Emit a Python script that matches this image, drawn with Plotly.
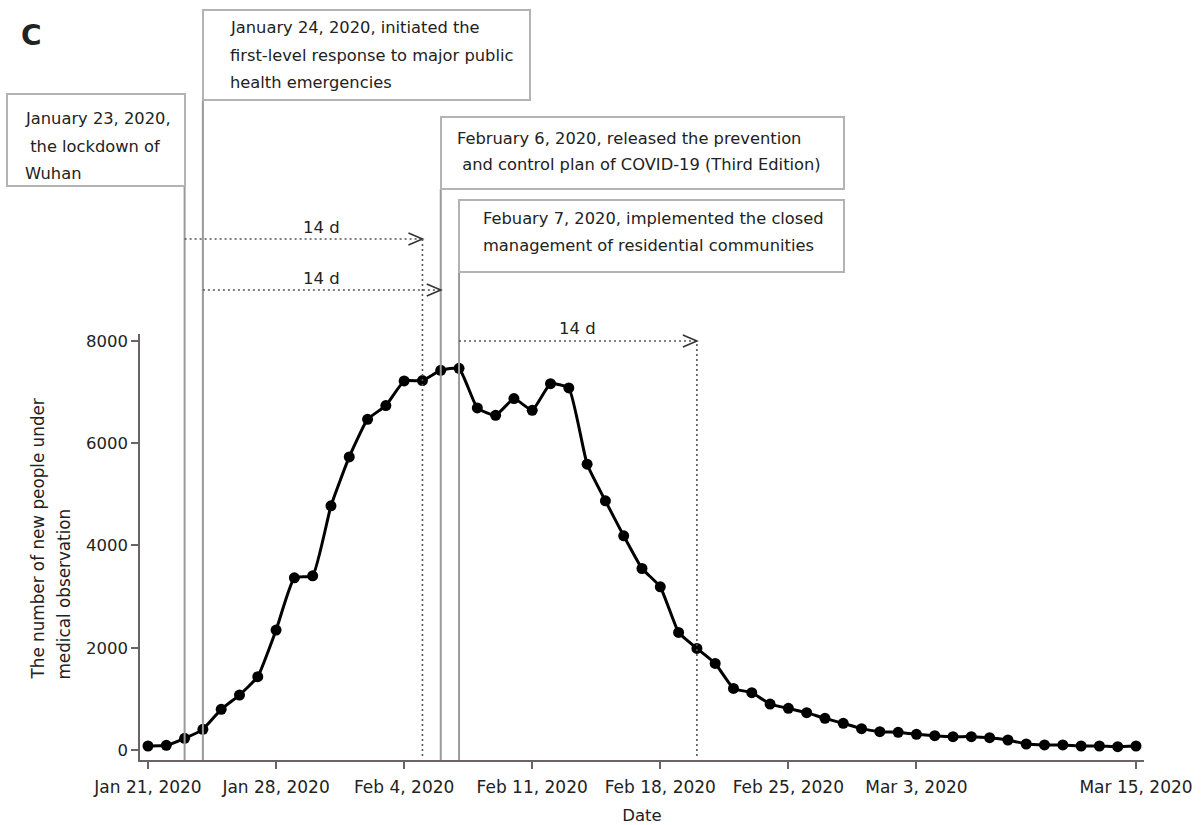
import pandas as pd
import plotly.graph_objects as go

# ---------------- data ----------------
dates = pd.date_range("2020-01-21", "2020-03-15", freq="D")
new_observed = [
    78, 91, 228, 404, 795, 1075, 1433, 2345, 3368, 3407, 4775,
    5733, 6469, 6736, 7218, 7225, 7427, 7465, 6690, 6547, 6873, 6645, 7166, 7081,
    5590, 4873, 4189, 3550, 3192, 2300, 1987, 1694, 1205, 1120, 899, 814, 730,
    619, 521, 417,
    358, 345, 306, 280, 261, 261, 241, 195, 117, 98, 98, 78, 78, 65, 78,
]
tick_dates = ["2020-01-21", "2020-01-28", "2020-02-04", "2020-02-11",
              "2020-02-18", "2020-02-25", "2020-03-03", "2020-03-15"]
tick_labels = ["Jan 21, 2020", "Jan 28, 2020", "Feb 4, 2020", "Feb 11, 2020",
               "Feb 18, 2020", "Feb 25, 2020", "Mar 3, 2020", "Mar 15, 2020"]
y_ticks = [0, 2000, 4000, 6000, 8000]

event_dates = ["2020-01-23", "2020-01-24", "2020-02-06", "2020-02-07"]
event_lines = [
    ["January 23, 2020,", "\u00a0the lockdown of", "Wuhan"],
    ["January 24, 2020, initiated the", "first-level response to major public",
     "health emergencies"],
    ["February 6, 2020, released the prevention",
     "\u00a0and control plan of COVID-19 (Third Edition)"],
    ["Febuary 7, 2020, implemented the closed",
     "management of residential communities"],
]
# 14-day arrows: start, end, label
arrow_start = ["2020-01-23", "2020-01-24", "2020-02-07"]
arrow_end = ["2020-02-05", "2020-02-06", "2020-02-20"]
arrow_label_x = ["2020-01-30 12:00", "2020-01-30 12:00", "2020-02-13 12:00"]
arrow_label = ["14 d", "14 d", "14 d"]

# ---------------- layout geometry (pixels) ----------------
W, H = 1201, 825
L, R, T, B = 140, 1144, 334, 760


def px_x(p):
    return (p - L) / (R - L)


def px_y(p):
    return (B - p) / (B - T)


box_px = [(7, 94, 185, 186), (203, 10, 530, 100), (441, 117, 844, 189), (459, 200, 844, 272)]
text_x_px = [23, 228, 455, 481]
text_y_px = [[119, 146, 174], [27.5, 55, 82.6], [138, 165], [218, 245]]
arrow_y_px = [239, 290, 341]
label_y_px = [227, 278, 328]

TXT = "#222222"
FONT = "DejaVu Sans"
AX = "#6b6464"

fig = go.Figure()
fig.add_trace(go.Scatter(
    x=dates, y=new_observed, mode="lines+markers",
    line=dict(color="black", width=3, shape="spline", smoothing=0.4),
    marker=dict(color="black", size=11),
    cliponaxis=False, showlegend=False,
))

shapes = []
annotations = []

# event vertical lines and boxes
for i, d in enumerate(event_dates):
    x0, y0, x1, y1 = box_px[i]
    shapes.append(dict(type="line", xref="x", yref="paper", x0=d, x1=d,
                       y0=0, y1=px_y(y1), line=dict(color="#9a9a9a", width=2)))
    shapes.append(dict(type="rect", xref="paper", yref="paper",
                       x0=px_x(x0), x1=px_x(x1), y0=px_y(y1), y1=px_y(y0),
                       line=dict(color="#b3b3b3", width=2), fillcolor="rgba(0,0,0,0)"))
    for j, line in enumerate(event_lines[i]):
        annotations.append(dict(text=line, xref="paper", yref="paper",
                                x=px_x(text_x_px[i]), y=px_y(text_y_px[i][j]),
                                xanchor="left", yanchor="middle", showarrow=False,
                                font=dict(family=FONT, size=16.3, color=TXT)))

# 14 d arrows
for i in range(3):
    ya = px_y(arrow_y_px[i])
    shapes.append(dict(type="line", xref="x", yref="paper",
                       x0=arrow_start[i], x1=arrow_end[i], y0=ya, y1=ya,
                       line=dict(color="#555555", width=1.6, dash="2px,3px")))
    shapes.append(dict(type="path", xref="x", yref="paper",
                       xsizemode="pixel", ysizemode="pixel",
                       xanchor=arrow_end[i], yanchor=ya,
                       path="M-14,6 L0,0 L-14,-6",
                       line=dict(color="#333333", width=1.6)))
    annotations.append(dict(text=arrow_label[i], xref="x", yref="paper",
                            x=arrow_label_x[i], y=px_y(label_y_px[i]),
                            xanchor="center", yanchor="middle", showarrow=False,
                            font=dict(family=FONT, size=16.5, color=TXT)))

# dotted verticals at arrow ends
for i in (0, 2):
    shapes.append(dict(type="line", xref="x", yref="paper",
                       x0=arrow_end[i], x1=arrow_end[i],
                       y0=px_y(756), y1=px_y(arrow_y_px[i]),
                       line=dict(color="#555555", width=1.6, dash="2px,3px")))

# panel letter
annotations.append(dict(text="<b>C</b>", xref="paper", yref="paper",
                        x=px_x(19), y=px_y(35), xanchor="left", yanchor="middle",
                        showarrow=False, font=dict(family=FONT, size=28, color=TXT)))

# y-axis title (two lines, left/bottom aligned)
for txt, xp in (("The number of new people under", 37), ("medical observation", 63)):
    annotations.append(dict(text=txt, xref="paper", yref="paper",
                            x=px_x(xp), y=px_y(682), xanchor="center", yanchor="bottom",
                            textangle=-90, showarrow=False,
                            font=dict(family=FONT, size=16.8, color=TXT)))

fig.update_layout(
    width=W, height=H,
    margin=dict(l=L, r=W - R, t=T, b=H - B, pad=0, autoexpand=False),
    paper_bgcolor="white", plot_bgcolor="white",
    font=dict(family=FONT, size=16, color=TXT),
    shapes=shapes, annotations=annotations,
    xaxis=dict(
        range=["2020-01-20 13:30", "2020-03-15 10:30"],
        automargin=False,
        tickmode="array", tickvals=tick_dates, ticktext=tick_labels,
        showgrid=False, zeroline=False, showline=True, linecolor=AX, linewidth=1.5,
        ticks="outside", ticklen=7, tickcolor=AX, tickwidth=1.5,
        ticklabelstandoff=4,
        tickfont=dict(family=FONT, size=17, color=TXT),
        title=dict(text="Date", font=dict(family=FONT, size=16.5, color=TXT), standoff=17),
    ),
    yaxis=dict(
        range=[-196, 8137],
        automargin=False,
        tickmode="array", tickvals=y_ticks,
        showgrid=False, zeroline=False, showline=True, linecolor=AX, linewidth=1.5,
        ticks="outside", ticklen=7, tickcolor=AX, tickwidth=1.5,
        tickfont=dict(family=FONT, size=16.5, color=TXT),
    ),
)

fig.write_html("out.html", config={"displayModeBar": False},
               post_script="document.body.style.margin='0';document.body.style.overflow='hidden';")
